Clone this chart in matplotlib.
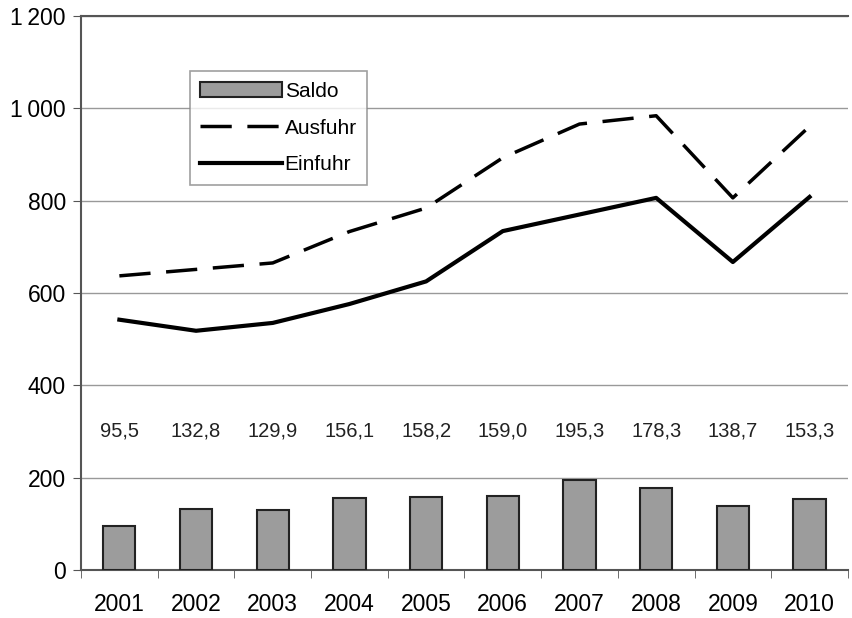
import numpy as np
import matplotlib
matplotlib.use('Agg')
import matplotlib.pyplot as plt

plt.rcParams['font.family'] = ['Liberation Sans', 'DejaVu Sans']

years = ['2001', '2002', '2003', '2004', '2005', '2006', '2007', '2008', '2009', '2010']
saldo = [95.5, 132.8, 129.9, 156.1, 158.2, 159.0, 195.3, 178.3, 138.7, 153.3]
ausfuhr = [637, 651, 665, 733, 784, 893, 966, 984, 806, 961]
einfuhr = [542, 518, 535, 576, 625, 734, 770, 806, 667, 808]
saldo_labels = ['95,5', '132,8', '129,9', '156,1', '158,2', '159,0', '195,3', '178,3', '138,7', '153,3']

fig = plt.figure(figsize=(8.53, 6.18), dpi=100)
ax = fig.add_axes([0.095, 0.078, 0.899, 0.896])

x = np.arange(len(years))
b = ax.bar(x, saldo, width=0.42, color='#9c9c9c', edgecolor='#222222', linewidth=1.5,
           label='Saldo', zorder=3)
l1, = ax.plot(x, ausfuhr, color='black', linewidth=2.5, dashes=(9, 4.5), label='Ausfuhr', zorder=4)
l2, = ax.plot(x, einfuhr, color='black', linewidth=3, label='Einfuhr', zorder=4)

for xi, lab in zip(x, saldo_labels):
    ax.text(xi, 300, lab, ha='center', va='center', fontsize=14.5, color='#222222')

ax.set_xlim(-0.5, len(years) - 0.5)
ax.set_ylim(0, 1200)
ax.set_yticks(range(0, 1201, 200))
ax.set_yticklabels(['0', '200', '400', '600', '800', '1\u2009000', '1\u2009200'], fontsize=16.5)
ax.set_xticks(x)
ax.set_xticklabels(years, fontsize=16.5)
ax.set_xticks(np.arange(-0.5, len(years), 1), minor=True)
ax.tick_params(axis='x', which='major', length=0, pad=17)
ax.tick_params(axis='x', which='minor', length=6, color='#555555', direction='out')
ax.tick_params(axis='y', length=6, color='#555555', pad=5)

ax.grid(axis='y', color='#999999', linewidth=1, zorder=0)
for side in ['left', 'bottom', 'top']:
    ax.spines[side].set_color('#555555')
    ax.spines[side].set_linewidth(1.5)
ax.spines['right'].set_visible(False)

leg = ax.legend(handles=[b, l1, l2], loc='upper left', bbox_to_anchor=(0.142, 0.9), fontsize=15,
                frameon=True, fancybox=False, handlelength=3.9, handletextpad=0.15,
                labelspacing=0.85, borderpad=0.5, borderaxespad=0)
leg.get_frame().set_edgecolor('#888888')
leg.get_frame().set_linewidth(1.2)

fig.savefig('out.png', dpi=100, facecolor='white')
